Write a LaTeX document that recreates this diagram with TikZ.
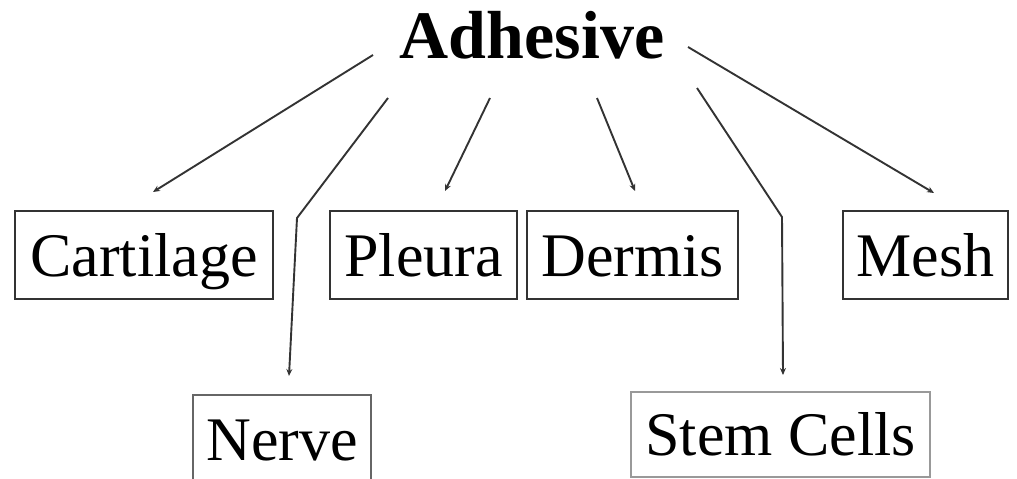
\documentclass[tikz,border=0pt]{standalone}
\usepackage{fontspec}
\setmainfont{Liberation Serif}
\usetikzlibrary{arrows.meta}
\begin{document}
\begin{tikzpicture}[x=1pt,y=-1pt,
  box/.style={draw=black!80,line width=2.6pt,minimum height=88pt,inner sep=0pt,
    font=\fontsize{62}{62}\selectfont,text height=42pt,text depth=0pt,anchor=center},
  conn/.style={draw=black!80,line width=1.9pt,-{Stealth[length=7pt,width=6pt]}}]
\useasboundingbox (0,0) rectangle (1017,479);
\clip (0,0) rectangle (1017,479);
\node[font=\fontsize{68}{68}\selectfont\bfseries,anchor=base,inner sep=0pt] (adh) at (532,58) {Adhesive};
\node[box,minimum width=258pt] (cart) at (144,255) {Cartilage};
\node[box,minimum width=187pt] (pleu) at (423.5,255) {Pleura};
\node[box,minimum width=211pt] (derm) at (632.5,255) {Dermis};
\node[box,minimum width=165pt] (mesh) at (925.5,255) {Mesh};
\node[box,minimum width=178pt,draw=black!60] (nerv) at (282,439) {Nerve};
\node[box,minimum width=299pt,minimum height=85pt,draw=black!40] (stem) at (780.5,434.5) {Stem Cells};
% start points near the Adhesive label
\coordinate (s1) at (373,55);
\coordinate (s2) at (388,98);
\coordinate (s3) at (490,98);
\coordinate (s4) at (597,98);
\coordinate (s5) at (697,88);
\coordinate (s6) at (688,47);
% bends and tips
\coordinate (b2) at (297,218);
\coordinate (b5) at (782,217);
\coordinate (t1) at (153,192);
\coordinate (t2) at (289,376);
\coordinate (t3) at (445,191);
\coordinate (t4) at (635,191);
\coordinate (t5) at (783,375);
\coordinate (t6) at (934,193);
\draw[conn] (s1) -- (t1);
\draw[conn] (s2) -- (b2) -- (t2);
\draw[conn] (s3) -- (t3);
\draw[conn] (s4) -- (t4);
\draw[conn] (s5) -- (b5) -- (t5);
\draw[conn] (s6) -- (t6);
\end{tikzpicture}
\end{document}
